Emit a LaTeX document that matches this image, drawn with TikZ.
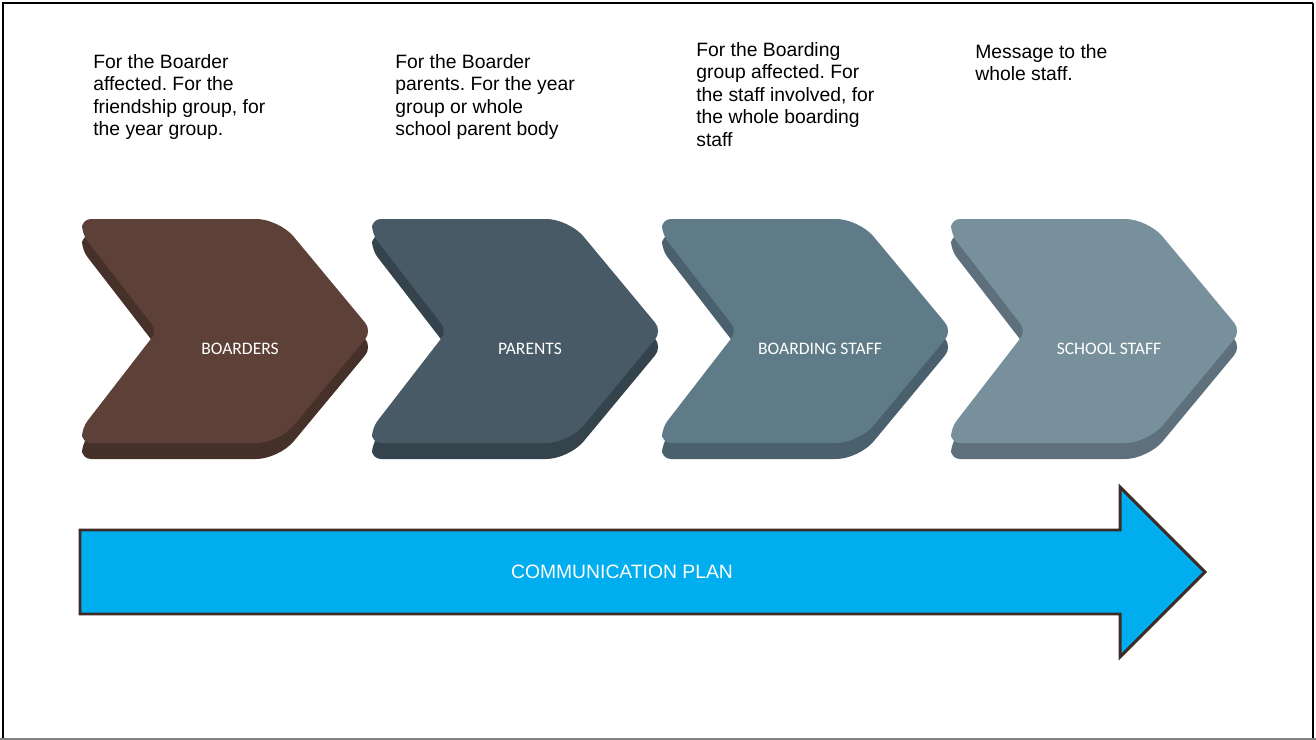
\documentclass[tikz,border=0pt]{standalone}
\usepackage{fontspec}
\setmainfont{Liberation Sans}
\newfontfamily\chevfont{Carlito}
\definecolor{boardface}{HTML}{5D4037}
\definecolor{boardside}{HTML}{46302A}
\definecolor{parentface}{HTML}{485A66}
\definecolor{parentside}{HTML}{35434C}
\definecolor{bstaffface}{HTML}{5F7B88}
\definecolor{bstaffside}{HTML}{4A616D}
\definecolor{sstaffface}{HTML}{78909B}
\definecolor{sstaffside}{HTML}{5D707B}
\definecolor{planblue}{HTML}{00AEEF}
\definecolor{planedge}{HTML}{3F2B25}
\frenchspacing
\begin{document}
\begin{tikzpicture}[x=0.02cm,y=-0.02cm,
    note/.style={anchor=north west,inner sep=0,align=left,font=\fontsize{11}{12.8}\selectfont},
    chevlabel/.style={text=white,inner sep=0,font=\chevfont\fontsize{10}{12}\selectfont},
    plantext/.style={text=white,inner sep=0,font=\fontsize{11}{13}\selectfont}]
	\useasboundingbox (0,0) rectangle (1316,740);
	% frame
	\draw[line width=1.6pt] (3,740) -- (3,3) -- (1313,3);
	\draw[line width=0.8pt] (1313,3) -- (1313,739);
	\draw[gray,line width=0.8pt] (0,739) -- (1316,739);
	% texts above
	\node[note] (boardnote) at (93,54) {For the Boarder\\affected. For the\\friendship group, for\\the year group.};
	\node[note] (parentnote) at (395,54) {For the Boarder\\parents. For the year\\group or whole\\school parent body};
	\node[note] (bstaffnote) at (696,42) {For the Boarding\\group affected. For\\the staff involved, for\\the whole boarding\\staff};
	\node[note] (sstaffnote) at (975,44) {Message to the\\whole staff.};
	% chevrons
	\foreach \x/\face/\side/\name/\txt in {82/boardface/boardside/boarders/BOARDERS,
		372/parentface/parentside/parents/PARENTS,
		662/bstaffface/bstaffside/bstaff/BOARDING STAFF,
		951/sstaffface/sstaffside/sstaff/SCHOOL STAFF}{
		\begin{scope}[shift={(\x,219)}]
			\fill[\side,rounded corners=5pt] (0,31) -- (0,16) [rounded corners=13pt] -- (197,16) [rounded corners=6pt] -- (290,128) [rounded corners=13pt] -- (197,240) [rounded corners=5pt] -- (0,240) -- (0,225) -- (75,128) -- cycle;
			\fill[\face,rounded corners=5pt] (0,15) -- (0,0) [rounded corners=13pt] -- (197,0) [rounded corners=6pt] -- (290,112) [rounded corners=13pt] -- (197,224) [rounded corners=5pt] -- (0,224) -- (0,209) -- (75,112) -- cycle;
			\node[chevlabel] (\name) at (158,130) {\txt};
		\end{scope}
	}
	% big arrow
	\draw[planedge,line width=1.7pt,fill=planblue] (80,530) -- (1120,530) -- (1120,487) -- (1205,572) -- (1120,657) -- (1120,614) -- (80,614) -- cycle;
	\node[plantext] (plan) at (622,572) {COMMUNICATION PLAN};
\end{tikzpicture}
\end{document}
